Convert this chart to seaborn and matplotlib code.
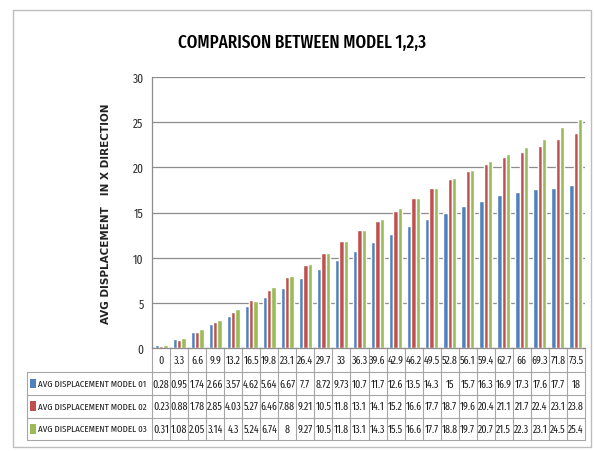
import numpy as np
import pandas as pd
import matplotlib
matplotlib.use("Agg")
import matplotlib.pyplot as plt
from matplotlib.transforms import blended_transform_factory
from matplotlib.patches import Rectangle
import seaborn as sns

categories = ["0", "3.3", "6.6", "9.9", "13.2", "16.5", "19.8", "23.1", "26.4", "29.7",
              "33", "36.3", "39.6", "42.9", "46.2", "49.5", "52.8", "56.1", "59.4", "62.7",
              "66", "69.3", "71.8", "73.5"]
model01 = [0.28, 0.95, 1.74, 2.66, 3.57, 4.62, 5.64, 6.67, 7.7, 8.72, 9.73, 10.7, 11.7, 12.6,
           13.5, 14.3, 15, 15.7, 16.3, 16.9, 17.3, 17.6, 17.7, 18]
model02 = [0.23, 0.88, 1.78, 2.85, 4.03, 5.27, 6.46, 7.88, 9.21, 10.5, 11.8, 13.1, 14.1, 15.2,
           16.6, 17.7, 18.7, 19.6, 20.4, 21.1, 21.7, 22.4, 23.1, 23.8]
model03 = [0.31, 1.08, 2.05, 3.14, 4.3, 5.24, 6.74, 8, 9.27, 10.5, 11.8, 13.1, 14.3, 15.5,
           16.6, 17.7, 18.8, 19.7, 20.7, 21.5, 22.3, 23.1, 24.5, 25.4]
series_names = ["AVG DISPLACEMENT MODEL 01", "AVG DISPLACEMENT MODEL 02", "AVG DISPLACEMENT MODEL 03"]
colors = ["#4F81BD", "#C0504D", "#9BBB59"]
title = "COMPARISON BETWEEN MODEL 1,2,3"
ylabel = "AVG DISPLACEMENT   IN X DIRECTION"
yticks = [0, 5, 10, 15, 20, 25, 30]

series_values = [model01, model02, model03]
df = pd.DataFrame({
    "cat": categories * 3,
    "model": np.repeat(series_names, len(categories)),
    "val": model01 + model02 + model03,
})

sns.set_theme(style="white")
cond = ["Fira Sans Extra Condensed", "Carlito", "DejaVu Sans"]
plt.rcParams["font.family"] = cond

W, H = 594, 452
fig = plt.figure(figsize=(W / 100, H / 100), dpi=100)
fig.patch.set_facecolor("white")

# axes geometry (pixels)
L, R, T, B = 152, 585, 78, 349
ax = fig.add_axes([L / W, 1 - B / H, (R - L) / W, (B - T) / H])

sns.barplot(data=df, x="cat", y="val", hue="model", order=categories,
            hue_order=series_names, palette=colors, width=0.72, gap=0,
            saturation=1, ax=ax, legend=False, errorbar=None)

ax.set_ylim(0, 30)
ax.set_xlim(-0.5, len(categories) - 0.5)
ax.set_yticks(yticks)
ax.set_yticklabels([str(t) for t in yticks], fontsize=9, color="#333333")
ax.tick_params(axis="y", length=0, pad=6)
ax.set_xticks([])
ax.set_xlabel("")
ax.set_ylabel("")
ax.grid(axis="y", color="#8C8C8C", lw=0.9)
ax.set_axisbelow(True)
for s in ["top", "right"]:
    ax.spines[s].set_visible(False)
ax.spines["left"].set_color("#8C8C8C")
ax.spines["bottom"].set_color("#8C8C8C")
ax.spines["left"].set_linewidth(0.9)
ax.spines["bottom"].set_linewidth(0.9)


def ay(py):
    return (B - py) / (B - T)


def axx(px):
    return (px - L) / (R - L)


# table
lc = "#A6A6A6"
tr_data = blended_transform_factory(ax.transData, ax.transAxes)
n = len(categories)
row_edges = [349, 373, 396, 418.5, 441]
tbl_left = 27
for py in row_edges[1:]:
    ax.plot([axx(tbl_left), 1], [ay(py), ay(py)], transform=ax.transAxes, color=lc,
            lw=0.8, clip_on=False)
for k in range(n + 1):
    ax.plot([k - 0.5, k - 0.5], [ay(row_edges[0]), ay(row_edges[-1])], transform=tr_data,
            color=lc, lw=0.8, clip_on=False)
ax.plot([axx(tbl_left), axx(tbl_left)], [ay(row_edges[1]), ay(row_edges[-1])],
        transform=ax.transAxes, color=lc, lw=0.8, clip_on=False)

fs = 7.8
cy = ay((row_edges[0] + row_edges[1]) / 2)
for k, c in enumerate(categories):
    ax.text(k, cy, c, transform=tr_data, ha="center", va="center", fontsize=fs,
            color="#222222", clip_on=False)

for r, (name, vals, col) in enumerate(zip(series_names, series_values, colors)):
    yc = ay((row_edges[r + 1] + row_edges[r + 2]) / 2)
    for k, v in enumerate(vals):
        ax.text(k, yc, f"{v:g}", transform=tr_data, ha="center", va="center",
                fontsize=fs, color="#222222", clip_on=False)
    ax.add_patch(Rectangle((axx(30), yc - 0.018), 6 / (R - L), 0.036,
                           transform=ax.transAxes, facecolor=col, edgecolor="none",
                           clip_on=False))
    ax.text(axx(37.5), yc, name, transform=ax.transAxes, ha="left", va="center",
            fontsize=7.0, color="#222222", clip_on=False)

fig.text(302 / W, 1 - 43 / H, title, ha="center", va="center", fontsize=13.3,
         fontweight=500, color="#000000", family=cond)
fig.text(106 / W, 1 - 214 / H, ylabel, ha="center", va="center", rotation=90,
         fontsize=7.5, fontweight="bold", color="#222222",
         family=["DejaVu Sans"])

fig.add_artist(Rectangle((13 / W, 1 - 448 / H), (591 - 13) / W, (448 - 11) / H,
                         transform=fig.transFigure, facecolor="none",
                         edgecolor="#BDBDBD", lw=1.0))

fig.savefig("out.png", dpi=100, facecolor="white")
